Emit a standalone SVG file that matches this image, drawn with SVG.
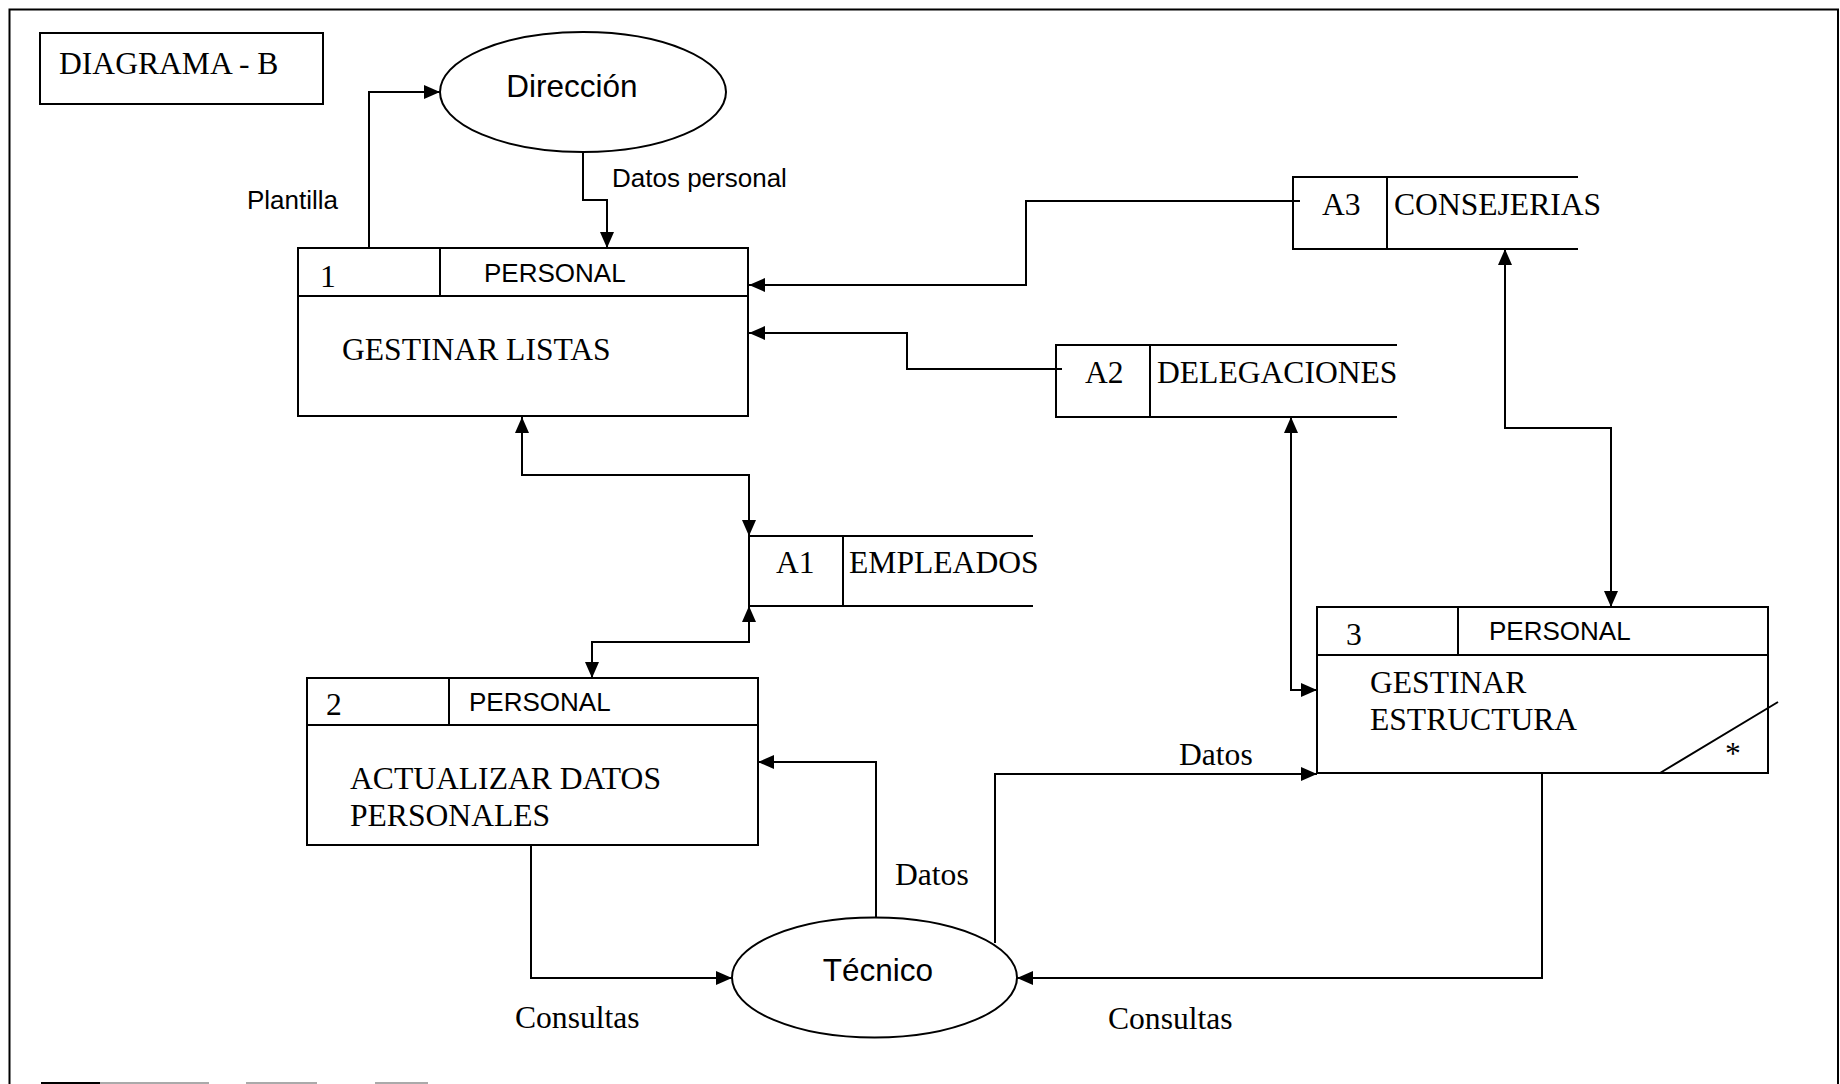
<svg xmlns="http://www.w3.org/2000/svg" width="1840" height="1084" viewBox="0 0 1840 1084">
<defs>
<style>
.ln{fill:none;stroke:#000;stroke-width:2}
.box{fill:#fff;stroke:#000;stroke-width:2}
.tm{font-family:"Liberation Serif","Times New Roman",serif;font-size:31.6px;fill:#000}
.ar{font-family:"Liberation Sans",Arial,sans-serif;font-size:26px;fill:#000}
.arl{font-family:"Liberation Sans",Arial,sans-serif;font-size:31.5px;fill:#000}
.cn{fill:none;stroke:#000;stroke-width:2;marker-end:url(#ah)}
.cn2{fill:none;stroke:#000;stroke-width:2;marker-end:url(#ah);marker-start:url(#as)}
</style>
<marker id="ah" markerUnits="userSpaceOnUse" markerWidth="16" markerHeight="16" viewBox="0 0 16 16" refX="16" refY="8" orient="auto"><path d="M0,1 L16,8 L0,15 Z" fill="#000"/></marker>
<marker id="as" markerUnits="userSpaceOnUse" markerWidth="16" markerHeight="16" viewBox="0 0 16 16" refX="16" refY="8" orient="auto-start-reverse"><path d="M0,1 L16,8 L0,15 Z" fill="#000"/></marker>
</defs>
<rect width="1840" height="1084" fill="#fff"/>
<g id="frame">
<path class="ln" d="M9.5,1084 V9.5 H1838 V1084"/>
<path d="M41,1083 H100" stroke="#000" stroke-width="2"/>
<path d="M100,1083 H209 M246,1083 H317 M375,1083 H428" stroke="#aaa" stroke-width="2"/>
</g>
<g id="title">
<rect class="box" x="40" y="33" width="283" height="71"/>
<text class="tm" x="59" y="74">DIAGRAMA - B</text>
</g>
<g id="direccion">
<ellipse class="box" cx="583" cy="92" rx="143" ry="60"/>
<text class="arl" x="572" y="97" text-anchor="middle">Dirección</text>
</g>
<g id="tecnico">
<ellipse class="box" cx="874.5" cy="977.5" rx="142.5" ry="60"/>
<text class="arl" x="878" y="981" text-anchor="middle">Técnico</text>
</g>
<g id="p1">
<rect class="box" x="298" y="248" width="450" height="168"/>
<path class="ln" d="M298,296 H748 M440,248 V296"/>
<text class="tm" x="320" y="287">1</text>
<text class="ar" x="484" y="282">PERSONAL</text>
<text class="tm" x="342" y="360">GESTINAR LISTAS</text>
</g>
<g id="p2">
<rect class="box" x="307" y="678" width="451" height="167"/>
<path class="ln" d="M307,725 H758 M449,678 V725"/>
<text class="tm" x="326" y="715">2</text>
<text class="ar" x="469" y="711">PERSONAL</text>
<text class="tm" x="350" y="789">ACTUALIZAR DATOS</text>
<text class="tm" x="350" y="826">PERSONALES</text>
</g>
<g id="p3">
<rect class="box" x="1317" y="607" width="451" height="166"/>
<path class="ln" d="M1317,655 H1768 M1458,607 V655 M1660,773 L1778,702"/>
<text class="tm" x="1346" y="645">3</text>
<text class="ar" x="1489" y="640">PERSONAL</text>
<text class="tm" x="1370" y="693">GESTINAR</text>
<text class="tm" x="1370" y="730">ESTRUCTURA</text>
<text class="tm" x="1733" y="764" text-anchor="middle">*</text>
</g>
<g id="a1">
<path class="ln" d="M1033,536 H749 V606 H1033 M843,536 V606"/>
<text class="tm" x="776" y="573">A1</text>
<text class="tm" x="849" y="573">EMPLEADOS</text>
</g>
<g id="a2">
<path class="ln" d="M1397,345 H1056 V417 H1397 M1150,345 V417"/>
<text class="tm" x="1085" y="383">A2</text>
<text class="tm" x="1157" y="383">DELEGACIONES</text>
</g>
<g id="a3">
<path class="ln" d="M1578,177 H1293 V249 H1578 M1387,177 V249"/>
<text class="tm" x="1322" y="215">A3</text>
<text class="tm" x="1394" y="215">CONSEJERIAS</text>
</g>
<g id="connectors">
<path class="cn" d="M369,248 V92 H440"/>
<path class="cn" d="M583,152 V200 H607 V248"/>
<path class="cn" d="M1300,201 H1026 V285 H749"/>
<path class="cn" d="M1062,369 H907 V333 H749"/>
<path class="cn2" d="M522,417 V475 H749 V536"/>
<path class="cn2" d="M749,606 V642 H592 V678"/>
<path class="cn" d="M876,918 V762 H758"/>
<path class="cn" d="M531,845 V978 H732"/>
<path class="cn" d="M995,943 V774 H1317"/>
<path class="cn" d="M1542,773 V978 H1017"/>
<path class="cn2" d="M1291,417 V690 H1317"/>
<path class="cn2" d="M1505,249 V428 H1611 V607"/>
<text class="ar" x="247" y="209">Plantilla</text>
<text class="ar" x="612" y="187">Datos personal</text>
<text class="tm" x="1179" y="765">Datos</text>
<text class="tm" x="895" y="885">Datos</text>
<text class="tm" x="515" y="1028">Consultas</text>
<text class="tm" x="1108" y="1029">Consultas</text>
</g>
</svg>
